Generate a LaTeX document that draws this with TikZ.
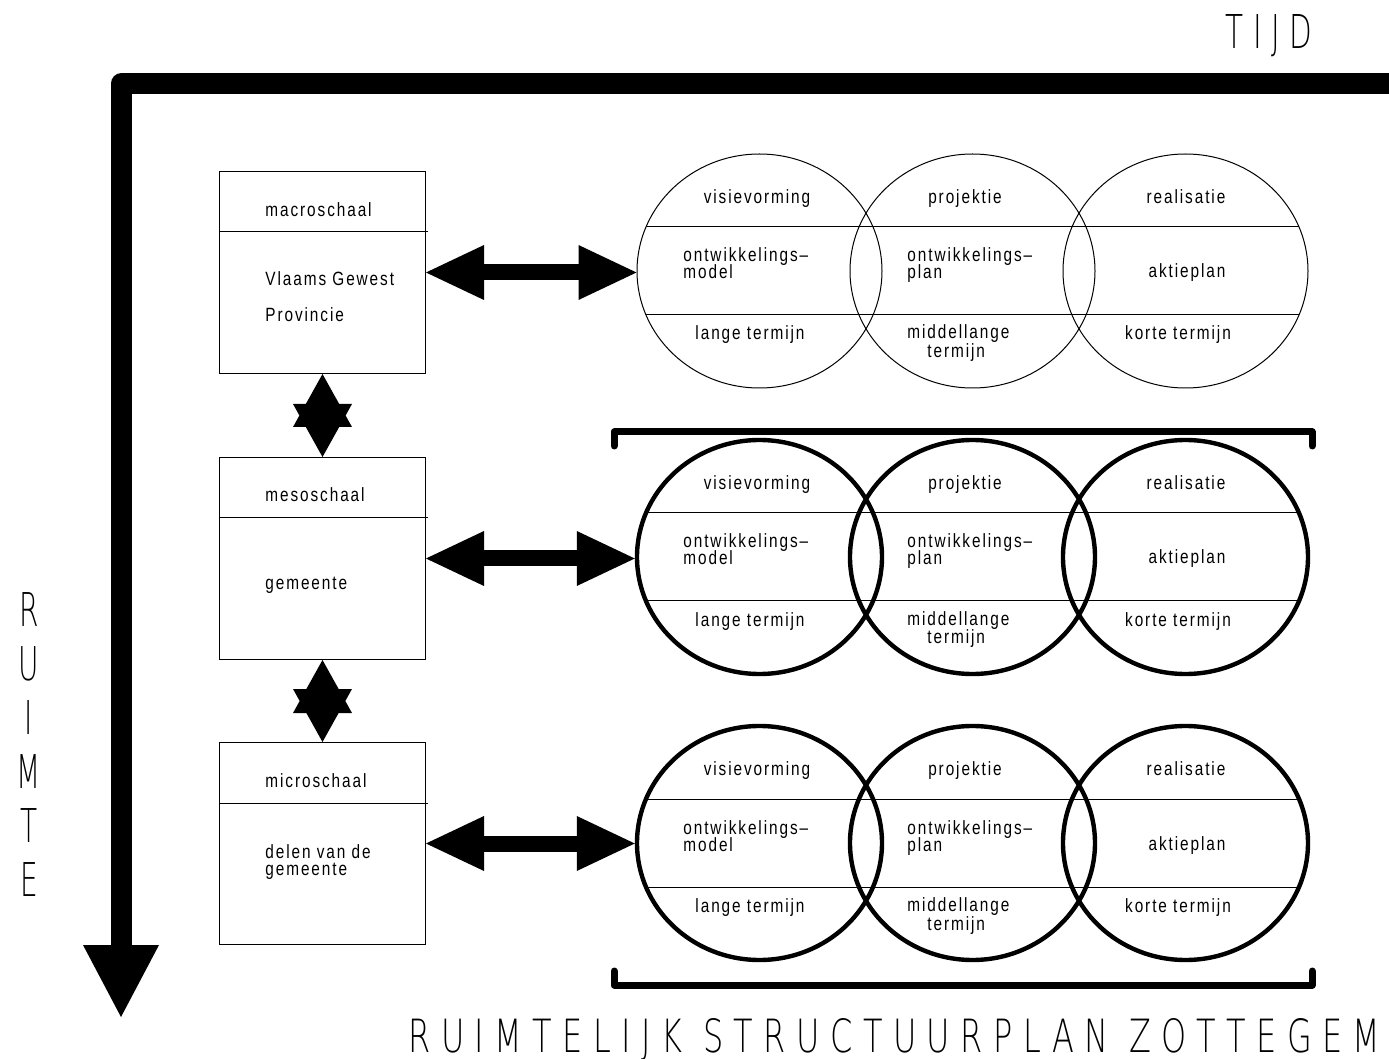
\documentclass[tikz,border=0pt]{standalone}
\usepackage{fontspec}
\setmainfont{Liberation Sans}
\newfontfamily\cadfont{Liberation Sans}[FakeStretch=0.8,LetterSpace=10]
\newfontfamily\cadbig{DejaVu Sans ExtraLight}[FakeStretch=0.55,LetterSpace=18]
\newfontfamily\cadtall{DejaVu Sans ExtraLight}[FakeStretch=0.6]
\usetikzlibrary{shapes.geometric,arrows.meta,calc}
\tikzset{
    pijl/.tip={Triangle[width=27.5pt,length=29pt,line width=0pt]},
    punt/.tip={Triangle[width=29.5pt,length=26.5pt,line width=0pt]},
    schaal/.style={draw, line width=0.5pt, rectangle, minimum width=103pt, minimum height=101pt, anchor=north west},
    fase/.style={draw, ellipse, minimum width=122.5pt, minimum height=117pt},
    dubbel/.style={line width=8pt, pijl-pijl},
    ster/.style={line width=1pt, punt-punt},
    haak/.style={line width=3.5pt, line cap=round, line join=round}
}
\begin{document}
\begin{tikzpicture}[x=0.5pt,y=-0.5pt,
    every node/.style={font=\cadfont\fontsize{9.6}{9}\selectfont, inner sep=0pt}]
    \useasboundingbox (0,0) rectangle (1389,1059);
    % assen
    \coordinate (tijdas) at (1400,84);
    \coordinate (hoek) at (121,84);
    \coordinate (ruimteas) at (121,1017);
    \draw[line width=10.5pt, line join=round, -{Triangle[width=38pt,length=36pt,line width=0pt]}] (tijdas) -- (hoek) -- (ruimteas);
    \node[anchor=north east] (tijd) at (1313,14) {\resizebox{43.5pt}{17pt}{\cadbig TIJD}};
    \node[anchor=north, align=center, font=\cadtall\fontsize{23.3}{27}\selectfont] (ruimte) at (29,592) {R\\U\\I\\M\\T\\E};
    \node[anchor=base west] (titel) at (408,1052) {\resizebox{486pt}{17pt}{\cadbig RUIMTELIJK STRUCTUURPLAN ZOTTEGEM}};
    % schalen
    \node[schaal] (macro) at (219,171) {};
    \node[schaal] (meso) at (219,457) {};
    \node[schaal] (micro) at (219,742) {};
    \foreach \b in {macro,meso,micro}
        \draw[line width=0.5pt] ($(\b.north west)+(0,61)$) -- ($(\b.north east)+(2,61)$);
    \node[anchor=base west] (macrot) at (265,217) {macroschaal};
    \node[anchor=base west] (macro1) at (265,286) {Vlaams Gewest};
    \node[anchor=base west] (macro2) at (265,322) {Provincie};
    \node[anchor=base west] (mesot) at (265,502) {mesoschaal};
    \node[anchor=base west] (meso1) at (265,589) {gemeente};
    \node[anchor=base west] (microt) at (265,787) {microschaal};
    \node[anchor=base west] (micro1) at (265,858) {delen van de};
    \node[anchor=base west] (micro2) at (265,875) {gemeente};
    \draw[ster] (macro.south) -- (meso.north);
    \draw[ster] (meso.south) -- (micro.north);
    % fasen
    \foreach \r/\dik in {1/0.5pt,2/2.2pt,3/2.2pt}{
        \pgfmathsetmacro{\yc}{271+286*(\r-1)}
        \node[fase, line width=\dik] (e\r1) at (759.5,\yc) {};
        \node[fase, line width=\dik] (e\r2) at (972.5,\yc) {};
        \node[fase, line width=\dik] (e\r3) at (1185.5,\yc) {};
        \draw[line width=0.5pt] ($(e\r1.center)+(-113.5,-44)$) -- ($(e\r3.center)+(113.5,-44)$);
        \draw[line width=0.5pt] ($(e\r1.center)+(-113.5,44)$) -- ($(e\r3.center)+(113.5,44)$);
        \node[anchor=base] at ($(e\r1.center)+(-2.5,-67)$) {visievorming};
        \node[anchor=base west] at ($(e\r1.center)+(-76.5,-9)$) {ontwikkelings–};
        \node[anchor=base west] at ($(e\r1.center)+(-76.5,8)$) {model};
        \node[anchor=base] at ($(e\r1.center)+(-9.5,69)$) {lange termijn};
        \node[anchor=base] at ($(e\r2.center)+(-7.5,-67)$) {projektie};
        \node[anchor=base west] at ($(e\r2.center)+(-65.5,-9)$) {ontwikkelings–};
        \node[anchor=base west] at ($(e\r2.center)+(-65.5,8)$) {plan};
        \node[anchor=base west] at ($(e\r2.center)+(-65.5,68)$) {middellange};
        \node[anchor=base west] at ($(e\r2.center)+(-45.5,87)$) {termijn};
        \node[anchor=base] at ($(e\r3.center)+(0.5,-67)$) {realisatie};
        \node[anchor=base] at ($(e\r3.center)+(1.5,7)$) {aktieplan};
        \node[anchor=base] at ($(e\r3.center)+(-7.5,69)$) {korte termijn};
    }
    \draw[dubbel] (macro.east) -- (macro.east -| e11.west);
    \draw[dubbel] (meso.east) -- (meso.east -| e21.west);
    \draw[dubbel] (micro.east) -- (micro.east -| e31.west);
    % haken
    \draw[haak] (614,446) -- (614,432) -- (1312,432) -- (1312,446);
    \draw[haak] (614,971) -- (614,985) -- (1312,985) -- (1312,971);
\end{tikzpicture}
\end{document}
